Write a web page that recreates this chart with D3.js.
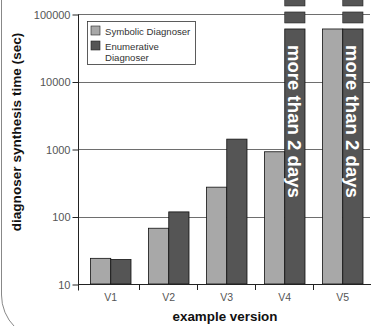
<!DOCTYPE html>
<html>
<head>
<meta charset="utf-8">
<script src="https://cdn.jsdelivr.net/npm/d3@7"></script>
<style>
  body { margin: 0; background: #fff; }
  svg { display: block; font-family: "Liberation Sans", Arial, sans-serif; }
</style>
</head>
<body>
<div class="chart"></div>
<script>
const width = 371, height = 326

// data (seconds, log scale)
const versions = ['V1', 'V2', 'V3', 'V4', 'V5']
const seriesNames = ['Symbolic Diagnoser', 'Enumerative Diagnoser']
const symbolic = [24, 67, 272, 910, 60000]
const enumerative = [23, 117, 1400, null, null]   // null = did not finish
const timeoutLabel = 'more than 2 days'
const timeoutDrawnAt = 60000                       // where the broken bars are cut
const yTicks = [10, 100, 1000, 10000, 100000]

const colors = ['#a8a8a8', '#555555']

const svg = d3.select('.chart').append('svg')
    .attr('width', width)
    .attr('height', height)

// rounded frame, only its left/bottom corner shows
svg.append('rect')
    .attr('x', 1.5).attr('y', -60)
    .attr('width', 440).attr('height', 400)
    .attr('rx', 45)
    .style('fill', 'none')
    .style('stroke', '#888')
    .style('stroke-width', 1)

const x = d3.scaleBand()
    .domain(versions)
    .range([81, 371])

const x1 = d3.scaleBand()
    .domain([0, 1])
    .range([9.5, 50])

const y = d3.scaleLog()
    .domain([10, 100000])
    .range([284, 14])

// grid lines
svg.append('g').attr('class', 'grid')
    .selectAll('line')
    .data(yTicks.slice(1))
    .enter().append('line')
    .attr('x1', 78).attr('x2', 370)
    .attr('y1', d => Math.round(y(d)) + 0.5)
    .attr('y2', d => Math.round(y(d)) + 0.5)
    .style('stroke', '#6e6e6e')
    .style('stroke-width', 1)

// y axis
const yAxis = svg.append('g')
    .attr('transform', 'translate(78.5,0.5)')
    .call(d3.axisLeft(y).tickValues(yTicks).tickFormat(d3.format('d')).tickSize(6).tickPadding(2))
yAxis.select('.domain').attr('d', 'M0,' + y(100000) + 'V' + (y(10) + 6)).style('stroke', '#222')
yAxis.selectAll('.tick line').style('stroke', '#222')
yAxis.selectAll('.tick text')
    .style('font-size', '11px')
    .style('fill', '#555')

// bars
const groups = svg.append('g').attr('class', 'bars')
    .selectAll('g')
    .data(versions.map((v, i) => ({ v: v, vals: [symbolic[i], enumerative[i]] })))
    .enter().append('g')
    .attr('transform', d => 'translate(' + x(d.v) + ',0)')

groups.selectAll('rect')
    .data(d => d.vals.map((val, k) => ({ k: k, val: val })))
    .enter().append('rect')
    .attr('x', d => x1(d.k))
    .attr('width', x1.bandwidth())
    .attr('y', d => y(d.val === null ? timeoutDrawnAt : d.val))
    .attr('height', d => y(10) - y(d.val === null ? timeoutDrawnAt : d.val))
    .style('fill', d => colors[d.k])
    .style('stroke', '#111')
    .style('stroke-width', 0.8)

// broken tops + labels for timeouts
const timeouts = versions.filter((v, i) => enumerative[i] === null)
const brk = svg.append('g').attr('class', 'breaks')
timeouts.forEach(v => {
    const bx = x(v) + x1(1)
    const top = y(timeoutDrawnAt)
    ;[[top - 17, 11], [top - 34, 11]].forEach(s => {
        brk.append('rect')
            .attr('x', bx).attr('y', s[0])
            .attr('width', x1.bandwidth()).attr('height', s[1])
            .style('fill', colors[1])
            .style('stroke', '#222')
            .style('stroke-width', 0.6)
    })
    brk.append('text')
        .attr('transform', 'translate(' + (bx + x1.bandwidth() / 2) + ',' + (top + 16) + ') rotate(90)')
        .attr('dy', '0.35em')
        .text(timeoutLabel)
        .style('fill', '#fff')
        .style('font-weight', 'bold')
        .style('font-size', '18.6px')
})

// x axis
svg.append('line')
    .attr('x1', 78).attr('x2', 371)
    .attr('y1', 284.5).attr('y2', 284.5)
    .style('stroke', '#222')
svg.append('g')
    .selectAll('line')
    .data(versions.slice(1))
    .enter().append('line')
    .attr('x1', d => Math.round(x(d)) + 0.5)
    .attr('x2', d => Math.round(x(d)) + 0.5)
    .attr('y1', 284).attr('y2', 290)
    .style('stroke', '#222')
svg.append('g')
    .selectAll('text')
    .data(versions)
    .enter().append('text')
    .attr('x', d => x(d) + x1(1))
    .attr('y', 301)
    .attr('text-anchor', 'middle')
    .text(d => d)
    .style('font-size', '10.5px')
    .style('fill', '#555')

// axis titles
svg.append('text')
    .attr('x', 225).attr('y', 321)
    .attr('text-anchor', 'middle')
    .text('example version')
    .style('font-weight', 'bold')
    .style('font-size', '13.4px')
    .style('fill', '#111')

svg.append('text')
    .attr('transform', 'translate(21,132) rotate(-90)')
    .attr('text-anchor', 'middle')
    .text('diagnoser synthesis time (sec)')
    .style('font-weight', 'bold')
    .style('font-size', '13.6px')
    .style('fill', '#111')

// legend
const legend = svg.append('g').attr('class', 'legend')
legend.append('rect')
    .attr('x', 87.5).attr('y', 21.5)
    .attr('width', 108).attr('height', 43)
    .style('fill', '#fff')
    .style('stroke', '#333')
    .style('stroke-width', 0.8)
const legendLines = [['Symbolic Diagnoser'], ['Enumerative', 'Diagnoser']]
seriesNames.forEach((name, i) => {
    const ly = 26 + i * 15
    legend.append('rect')
        .attr('x', 91).attr('y', ly)
        .attr('width', 9).attr('height', 9)
        .style('fill', colors[i])
        .style('stroke', '#222')
        .style('stroke-width', 0.6)
    legendLines[i].forEach((t, j) => {
        legend.append('text')
            .attr('x', 105).attr('y', ly + 8.5 + j * 11)
            .text(t)
            .style('font-size', '9.6px')
            .style('fill', '#333')
    })
})
</script>
</body>
</html>
